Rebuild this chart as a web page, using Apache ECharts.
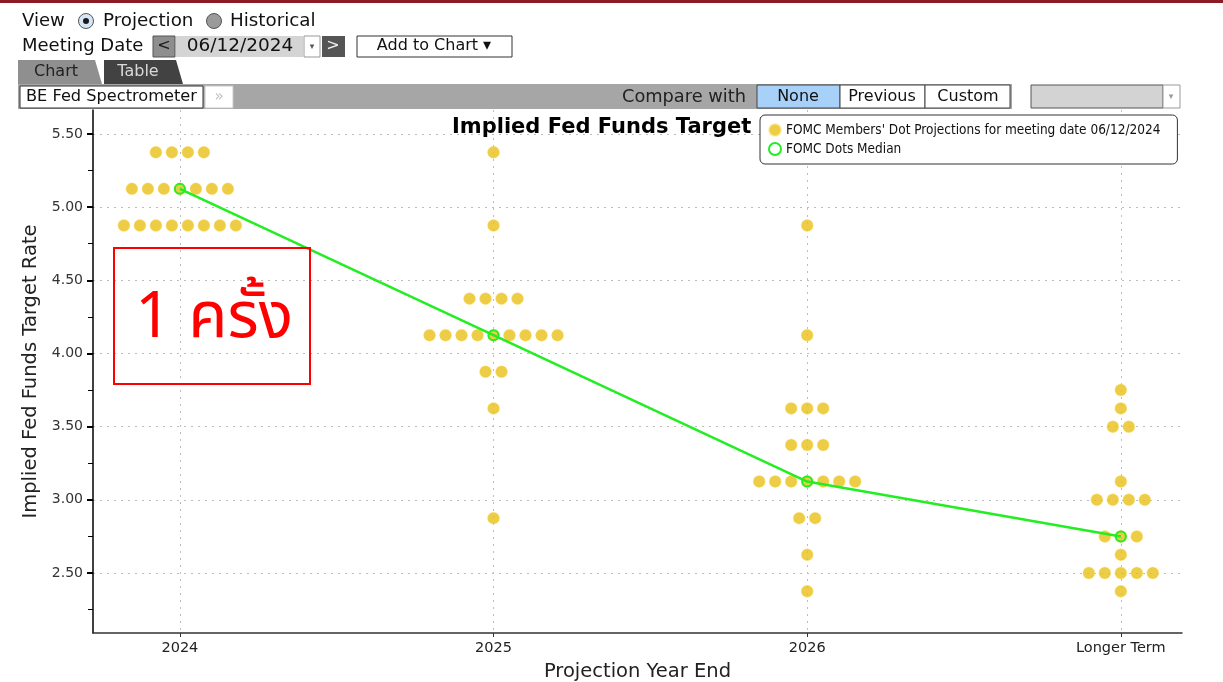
<!DOCTYPE html>
<html><head><meta charset="utf-8">
<script src="https://cdn.jsdelivr.net/npm/echarts@6/dist/echarts.min.js"></script>
<style>html,body{margin:0;padding:0;background:#fff}#c{width:1223px;height:682px}</style>
</head><body><div id="c"></div>
<script>
// ---------- DATA ----------
const categories = ['2024', '2025', '2026', 'Longer Term'];
const rates2024 = [5.375, 5.125, 4.875];
const counts2024 = [4, 7, 8];
const rates2025 = [5.375, 4.875, 4.375, 4.125, 3.875, 3.625, 2.875];
const counts2025 = [1, 1, 4, 9, 2, 1, 1];
const rates2026 = [4.875, 4.125, 3.625, 3.375, 3.125, 2.875, 2.625, 2.375];
const counts2026 = [1, 1, 3, 3, 7, 2, 1, 1];
const ratesLonger = [3.75, 3.625, 3.5, 3.125, 3.0, 2.75, 2.625, 2.5, 2.375];
const countsLonger = [1, 1, 2, 1, 4, 3, 1, 5, 1];
const medians = [5.125, 4.125, 3.125, 2.75];
const yTickLabels = ['2.50', '3.00', '3.50', '4.00', '4.50', '5.00', '5.50'];
const seriesDots = "FOMC Members' Dot Projections for meeting date 06/12/2024";
const seriesMedian = 'FOMC Dots Median';

// ---------- BUILD ----------
const DOT_STEP = 0.051; // horizontal spread between dots at the same rate
const allRates = [rates2024, rates2025, rates2026, ratesLonger];
const allCounts = [counts2024, counts2025, counts2026, countsLonger];
const dotData = [];
allRates.forEach((rates, ci) => {
  rates.forEach((r, ri) => {
    const n = allCounts[ci][ri];
    for (let k = 0; k < n; k++) dotData.push([ci + (k - (n - 1) / 2) * DOT_STEP, r]);
  });
});
const medianData = medians.map((m, i) => [i, m]);
const yMajor = yTickLabels.map(Number);
const yMinor = [];
yMajor.forEach(v => { yMinor.push(v - 0.25); });
yMinor.push(yMajor[yMajor.length - 1]);

const F = 'DejaVu Sans, Liberation Sans, sans-serif';
const GRID = '#bdbdbd';
const GREEN = '#22ee22';
const txt = (x, y, s, size, fill, align) => ({
  type: 'text', z: 20,
  style: { x: x, y: y, text: s, font: size + 'px ' + F, fill: fill || '#111', align: align || 'left', verticalAlign: 'middle' }
});
const box = (x, y, w, h, fill, stroke, lw) => ({
  type: 'rect', z: 19, shape: { x: x, y: y, width: w, height: h },
  style: { fill: fill, stroke: stroke || null, lineWidth: lw || 1 }
});

const graphic = [
  box(0, 0, 1223, 3, '#8b1c24'),
  txt(22, 21, 'View', 18, '#111'),
  { type: 'circle', z: 19, shape: { cx: 86, cy: 21, r: 7.5 }, style: { fill: '#d5e7f7', stroke: '#555', lineWidth: 1 } },
  { type: 'circle', z: 20, shape: { cx: 86, cy: 21, r: 3 }, style: { fill: '#1a1a1a' } },
  txt(103, 21, 'Projection', 18.3, '#111'),
  { type: 'circle', z: 19, shape: { cx: 214, cy: 21, r: 7.5 }, style: { fill: '#9a9a9a', stroke: '#555', lineWidth: 1 } },
  txt(230, 21, 'Historical', 18.3, '#111'),
  txt(22, 46, 'Meeting Date', 18, '#111'),
  box(153, 36, 22, 21, '#8e8e8e', '#555'),
  txt(164, 46, '<', 16, '#1a1a1a', 'center'),
  box(176, 36, 127, 21, '#d4d4d4'),
  txt(240, 46, '06/12/2024', 18.5, '#111', 'center'),
  box(304, 36, 16, 21, '#fff', '#999'),
  txt(312, 47, '▾', 9, '#555', 'center'),
  box(322, 36, 23, 21, '#555555'),
  txt(333, 46, '>', 16, '#eee', 'center'),
  box(357, 36, 155, 21, '#fff', '#333'),
  txt(434, 46, 'Add to Chart ▾', 16, '#111', 'center'),
  { type: 'polygon', z: 19, shape: { points: [[18, 84], [18, 60], [95, 60], [102, 84]] }, style: { fill: '#8f8f8f' } },
  txt(56, 72, 'Chart', 16, '#222', 'center'),
  { type: 'polygon', z: 19, shape: { points: [[104, 84], [104, 60], [176, 60], [183, 84]] }, style: { fill: '#424242' } },
  txt(138, 72, 'Table', 16, '#d8d8d8', 'center'),
  box(18, 84, 994, 25, '#a6a6a6'),
  box(20, 86, 183, 22, '#fff', '#333'),
  txt(26, 97, 'BE Fed Spectrometer', 16.2, '#111'),
  box(205, 86, 28, 22, '#fff', '#c8c8c8'),
  txt(219, 97, '»', 15, '#c0c0c0', 'center'),
  txt(746, 97, 'Compare with', 17.8, '#222', 'right'),
  box(757, 85, 83, 23, '#a7d1f8', '#444'),
  txt(798, 97, 'None', 16, '#111', 'center'),
  box(840, 85, 85, 23, '#fff', '#444'),
  txt(882, 97, 'Previous', 16, '#111', 'center'),
  box(925, 85, 85, 23, '#fff', '#444'),
  txt(968, 97, 'Custom', 16, '#111', 'center'),
  box(1031, 85, 132, 23, '#d3d3d3', '#555'),
  box(1163, 85, 17, 23, '#fff', '#999'),
  txt(1171, 97, '▾', 9, '#999', 'center'),
  // annotation
  { type: 'rect', z: 15, shape: { x: 114, y: 248, width: 196, height: 136 }, style: { fill: 'none', stroke: '#ff0000', lineWidth: 2 } },
  { type: 'text', z: 15, style: { x: 214, y: 324, text: '1 ครั้ง', font: '64px Noto Sans Thai, Noto Sans, DejaVu Sans, sans-serif', fill: '#ff0000', align: 'center', verticalAlign: 'middle' } }
];

const option = {
  animation: false,
  backgroundColor: '#fff',
  title: {
    text: 'Implied Fed Funds Target Rate', left: 452, top: 117, z: 1, padding: 0,
    textStyle: { fontFamily: F, fontWeight: 'bold', fontSize: 21, color: '#000' }
  },
  legend: {
    orient: 'vertical', left: 760, top: 115, z: 10,
    backgroundColor: '#fff', borderColor: '#333', borderWidth: 1, borderRadius: 5,
    padding: [8, 17, 8, 8], itemGap: 5, itemWidth: 12, itemHeight: 12,
    textStyle: { fontFamily: 'DejaVu Sans Condensed, Liberation Sans Narrow, sans-serif', fontSize: 13.5, color: '#111' },
    data: [
      { name: seriesDots, icon: 'circle' },
      { name: seriesMedian, icon: 'emptyCircle', itemStyle: { color: GREEN, borderColor: GREEN, borderWidth: 1.5 } }
    ]
  },
  grid: { left: 93, right: 41, top: 110, bottom: 49, outerBoundsMode: 'none', containLabel: false },
  xAxis: {
    type: 'value', min: -0.277, max: 3.195,
    name: 'Projection Year End', nameLocation: 'middle', nameGap: 29,
    nameTextStyle: { fontFamily: F, fontSize: 19.5, color: '#222' },
    axisLine: { show: true, onZero: false, lineStyle: { color: '#333', width: 1.5 } },
    axisTick: { show: true, customValues: [0, 1, 2, 3], length: 4, lineStyle: { color: '#333' } },
    axisLabel: { customValues: [0, 1, 2, 3], formatter: v => categories[Math.round(v)], fontFamily: F, fontSize: 14.5, color: '#222', margin: 8 },
    splitLine: { show: true, lineStyle: { color: GRID, type: [2, 5] } }
  },
  yAxis: [
    {
      type: 'value', min: 2.09, max: 5.664, position: 'left',
      name: 'Implied Fed Funds Target Rate', nameLocation: 'middle', nameGap: 51,
      nameTextStyle: { fontFamily: F, fontSize: 19.5, color: '#222' },
      axisLine: { show: true, onZero: false, lineStyle: { color: '#000', width: 1.5 } },
      axisTick: { show: true, customValues: yMajor, length: 6, lineStyle: { color: '#000', width: 2 } },
      axisLabel: { customValues: yMajor, formatter: v => v.toFixed(2), fontFamily: F, fontSize: 14, color: '#333', margin: 10 },
      splitLine: { show: true, lineStyle: { color: GRID, type: [2, 5] } }
    },
    {
      type: 'value', min: 2.09, max: 5.664, position: 'left',
      axisLine: { show: false, onZero: false },
      axisTick: { show: true, customValues: yMinor, length: 5, lineStyle: { color: '#000', width: 1 } },
      axisLabel: { show: false },
      splitLine: { show: false }
    }
  ],
  series: [
    {
      name: seriesDots, type: 'scatter', data: dotData, symbol: 'circle', symbolSize: 12, z: 3,
      itemStyle: { color: '#e8c016', borderColor: 'rgba(255,228,120,0.6)', borderWidth: 0.8 }
    },
    {
      name: seriesMedian, type: 'line', data: medianData, z: 4,
      symbol: 'circle', symbolSize: 10, showSymbol: true,
      lineStyle: { color: GREEN, width: 2.5 },
      itemStyle: { color: 'rgba(0,0,0,0)', borderColor: GREEN, borderWidth: 2 }
    }
  ],
  graphic: graphic
};
const chart = echarts.init(document.getElementById('c'));
chart.setOption(option);
</script>
</body></html>
